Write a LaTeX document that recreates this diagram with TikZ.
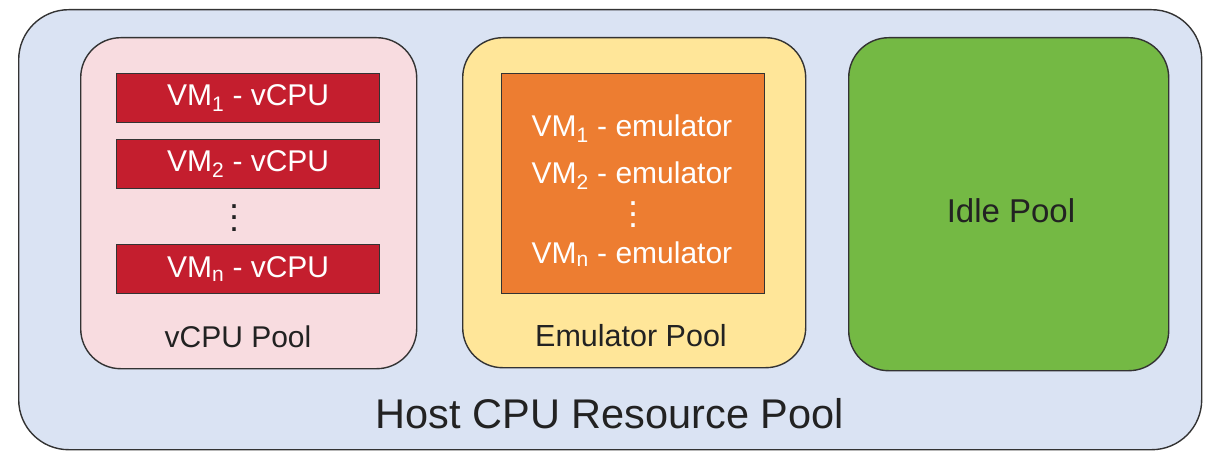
\documentclass[tikz,border=0pt]{standalone}
\usepackage{fontspec}
\setmainfont{Liberation Sans}
\definecolor{hostblue}{HTML}{DAE3F3}
\definecolor{vpink}{HTML}{F8DCE0}
\definecolor{vred}{HTML}{C41E2E}
\definecolor{emyellow}{HTML}{FFE699}
\definecolor{emorange}{HTML}{ED7D31}
\definecolor{idlegreen}{HTML}{74B944}
\definecolor{edge}{HTML}{333333}
\definecolor{txt}{HTML}{222222}
\newcommand{\fs}[1]{\fontsize{#1}{#1}\selectfont}
\newcommand{\stackdots}[1]{\vbox{\baselineskip=#1\lineskiplimit=-100pt\lineskip=0pt\hbox{.}\hbox{.}\hbox{.}}}
\tikzset{
  pool/.style={draw=edge, line width=1.4pt, rounded corners=40pt, anchor=north west, inner sep=0pt},
  bar/.style={draw=edge, line width=1.2pt, fill=vred, anchor=north west, minimum width=263pt, minimum height=49pt, inner sep=0pt},
  bartext/.style={text=white, font=\fs{30}},
  lbl/.style={text=txt, font=\fs{30}},
  dotstack/.style={font=\fs{36}, anchor=base, inner sep=0pt},
}
\begin{document}
\begin{tikzpicture}[x=1pt,y=-1pt]
\useasboundingbox (0,0) rectangle (1211,452);
\node[pool, rounded corners=50pt, fill=hostblue, minimum width=1183pt, minimum height=440pt] (host) at (18,9) {};
\node[lbl, font=\fs{41.5}] (hostlbl) at (610,414) {Host CPU Resource Pool};
% vCPU pool
\node[pool, fill=vpink, minimum width=336pt, minimum height=331pt] (vpool) at (80,37) {};
\node[bar] (b1) at (116,73) {};
\node[bar] (b2) at (116,139) {};
\node[bar] (bn) at (116,244) {};
\node[bartext] (t1) at (b1.center) {VM\textsubscript{1} - vCPU};
\node[bartext] (t2) at (b2.center) {VM\textsubscript{2} - vCPU};
\node[bartext] (tn) at (bn.center) {VM\textsubscript{n} - vCPU};
\node[dotstack, text=txt] (vdots) at (234,231) {\stackdots{11.5pt}};
\node[lbl] (vlbl) at (238,337) {vCPU Pool};
% emulator pool
\node[pool, fill=emyellow, minimum width=343pt, minimum height=330pt] (epool) at (462,37) {};
\node[draw=edge, line width=1.2pt, fill=emorange, anchor=north west, minimum width=263pt, minimum height=220pt, inner sep=0pt] (ebox) at (501,73) {};
\node[bartext] (e1) at (632,129) {VM\textsubscript{1} - emulator};
\node[bartext] (e2) at (632,176) {VM\textsubscript{2} - emulator};
\node[dotstack, text=white] (edots) at (633,227) {\stackdots{11pt}};
\node[bartext] (en) at (632,254) {VM\textsubscript{n} - emulator};
\node[lbl, font=\fs{30.5}] (elbl) at (631,336) {Emulator Pool};
% idle pool
\node[pool, fill=idlegreen, minimum width=320pt, minimum height=333pt] (ipool) at (848,37) {};
\node[lbl, font=\fs{33}] (ilbl) at (1011,211) {Idle Pool};
\end{tikzpicture}
\end{document}
